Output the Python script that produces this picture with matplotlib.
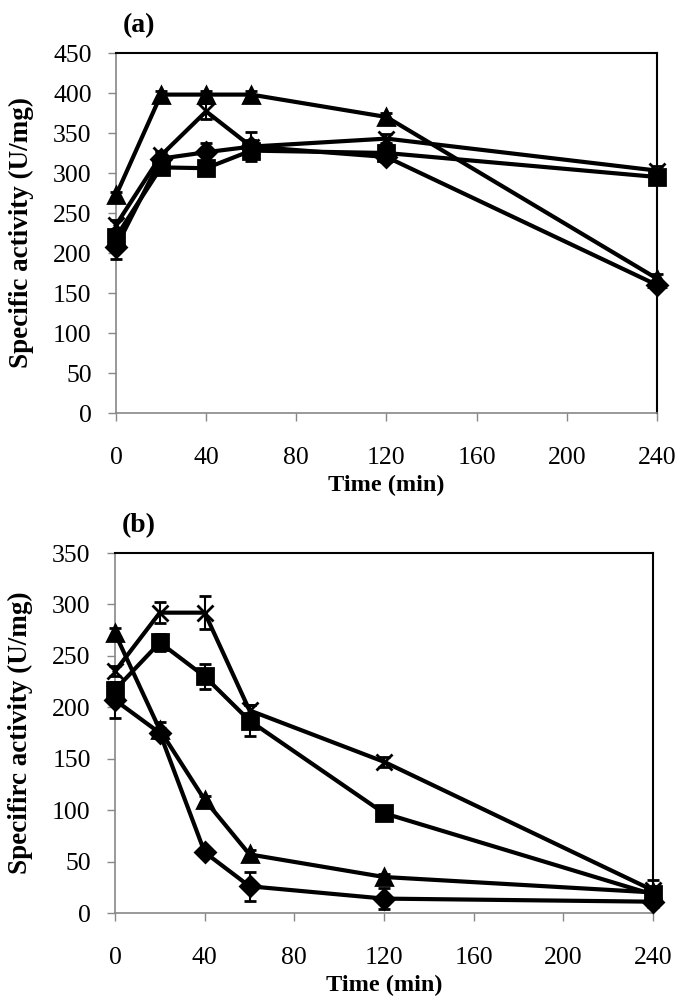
import numpy as np
import matplotlib.pyplot as plt

plt.rcParams['font.family'] = ['Liberation Serif', 'DejaVu Serif']

time = [0, 20, 40, 60, 120, 240]

# panel (a)
a_tri = [272, 398, 398, 398, 370, 168]
a_x = [235, 322, 377, 333, 343, 303]
a_sq = [220, 307, 306, 328, 325, 295]
a_dia = [207, 318, 326, 333, 320, 160]
a_tri_err = [4, 5, 4, 4, 5, 6]
a_x_err = [6, 6, 10, 8, 6, 6]
a_sq_err = [8, 6, 5, 6, 5, 5]
a_dia_err = [15, 8, 12, 18, 6, 5]

# panel (b)
b_tri = [272, 178, 110, 57, 35, 20]
b_x = [235, 292, 292, 197, 147, 22]
b_sq = [217, 263, 230, 187, 97, 18]
b_dia = [207, 175, 59, 26, 14, 11]
b_tri_err = [5, 8, 4, 4, 3, 4]
b_x_err = [5, 10, 16, 5, 5, 10]
b_sq_err = [8, 8, 12, 15, 3, 5]
b_dia_err = [17, 5, 3, 14, 10, 5]

fig = plt.figure(figsize=(6.85, 10), dpi=100)
ax1 = fig.add_axes([0.1693, 0.587, 0.7898, 0.360])
ax2 = fig.add_axes([0.1679, 0.087, 0.7854, 0.360])


def draw(ax, series, ymax, ystep, ylabel, tag):
    for y, err, m, ms in series:
        ax.errorbar(time, y, yerr=err, color='black', lw=3, marker=m, ms=ms,
                    mew=2, capsize=4, elinewidth=1.5, capthick=1.5, clip_on=False, zorder=3)
    ax.set_xlim(0, 240)
    ax.set_ylim(0, ymax)
    ax.set_xticks(range(0, 241, 40))
    ax.set_yticks(range(0, ymax + 1, ystep))
    ax.tick_params(labelsize=18.5, direction='out', color='#888888', length=5.5, width=1)
    ax.tick_params(axis='x', pad=19)
    ax.tick_params(axis='y', pad=12)
    for s in ['left', 'bottom']:
        ax.spines[s].set_color('#888888')
        ax.spines[s].set_linewidth(1.2)
    for s in ['top', 'right']:
        ax.spines[s].set_color('black')
        ax.spines[s].set_linewidth(1.5)
    ax.set_xlabel('Time (min)', fontsize=17.5, fontweight='bold', labelpad=4)
    ax.set_ylabel(ylabel, fontsize=19.5, fontweight='bold', labelpad=14)
    ax.text(0.012, 1.04, tag, transform=ax.transAxes, fontsize=20, fontweight='bold', va='bottom')


draw(ax1, [(a_tri, a_tri_err, '^', 12), (a_x, a_x_err, 'x', 12),
           (a_sq, a_sq_err, 's', 11), (a_dia, a_dia_err, 'D', 10)],
     450, 50, 'Specific activity (U/mg)', '(a)')
draw(ax2, [(b_tri, b_tri_err, '^', 12), (b_x, b_x_err, 'x', 12),
           (b_sq, b_sq_err, 's', 11), (b_dia, b_dia_err, 'D', 10)],
     350, 50, 'Specifirc activity (U/mg)', '(b)')

fig.savefig('out.png', dpi=100)
